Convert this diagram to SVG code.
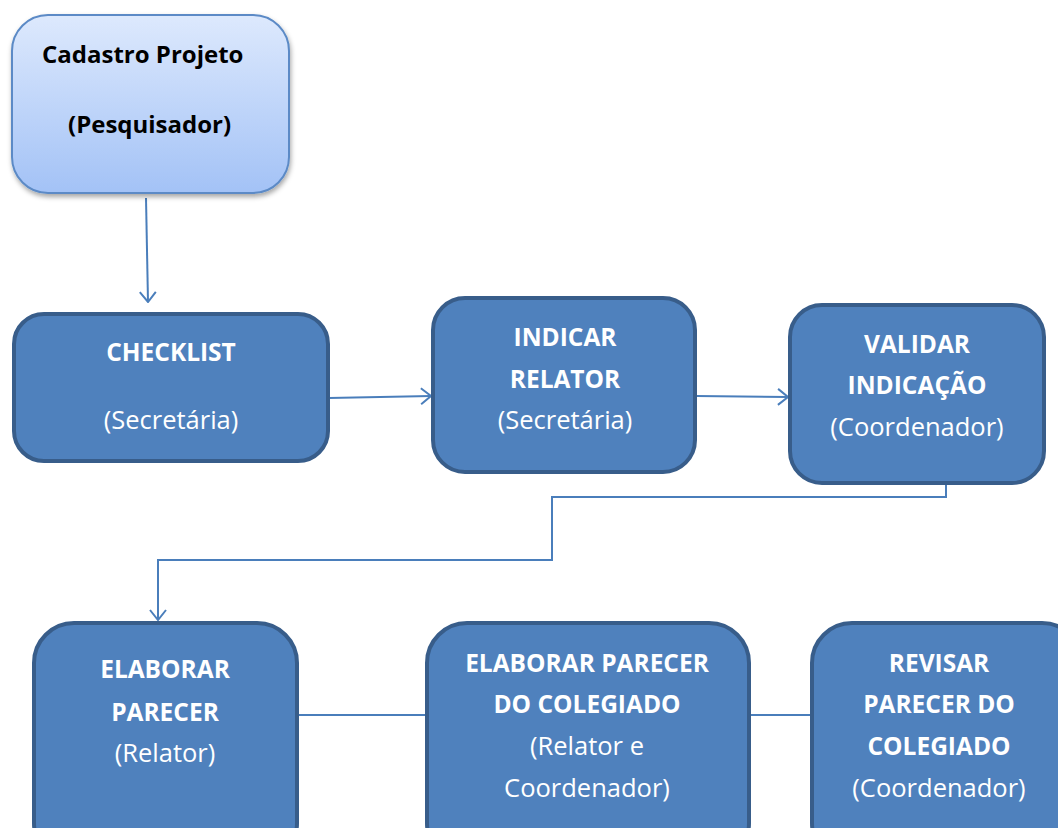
<svg xmlns="http://www.w3.org/2000/svg" width="1058" height="828" viewBox="0 0 1058 828">
<defs>
<linearGradient id="g1" x1="0" y1="0" x2="0" y2="1">
<stop offset="0" stop-color="#dde9fd"/>
<stop offset="1" stop-color="#a3c2f6"/>
</linearGradient>
<filter id="sh" x="-10%" y="-10%" width="120%" height="125%">
<feDropShadow dx="1" dy="3" stdDeviation="2.5" flood-color="#000" flood-opacity="0.35"/>
</filter>
<marker id="ah" viewBox="0 0 12 18" refX="11" refY="9" markerWidth="12" markerHeight="18" markerUnits="userSpaceOnUse" orient="auto">
<path d="M1,1 L11,9 L1,17" fill="none" stroke="#4a7ebb" stroke-width="2"/>
</marker>
<style>
.box{fill:#4f81bd;stroke:#385d8a;stroke-width:4}
.b{font-family:"Open Sans","Liberation Sans",sans-serif;font-weight:bold;font-size:24.5px;fill:#fff;text-anchor:middle}
.r{font-family:"Open Sans","Liberation Sans",sans-serif;font-size:25.5px;fill:#fff;text-anchor:middle}
.t{font-family:"Open Sans","Liberation Sans",sans-serif;font-weight:bold;font-size:24px;fill:#000}
.c{fill:none;stroke:#4a7ebb;stroke-width:2}
</style>
</defs>
<rect width="1058" height="828" fill="#fff"/>
<g id="connectors">
<path class="c" d="M146,198 L148,302" marker-end="url(#ah)"/>
<path class="c" d="M329,398 L431,396" marker-end="url(#ah)"/>
<path class="c" d="M696,396 L788,397" marker-end="url(#ah)"/>
<path class="c" d="M946,484 L946,497 L552,497 L552,560 L158,560 L158,620" marker-end="url(#ah)"/>
<path class="c" d="M277,715 L426,715"/>
<path class="c" d="M750,715 L811,715"/>
</g>
<g id="cadastro">
<rect x="12" y="15" width="277" height="178" rx="36" fill="url(#g1)" stroke="#5b8ac6" stroke-width="2" filter="url(#sh)"/>
<text class="t" x="42" y="63">Cadastro Projeto</text>
<text class="t" x="68" y="133">(Pesquisador)</text>
</g>
<g id="checklist">
<rect class="box" x="14" y="314" width="314" height="147" rx="30"/>
<text class="b" x="171" y="361">CHECKLIST</text>
<text class="r" x="171" y="429">(Secretária)</text>
</g>
<g id="indicar">
<rect class="box" x="433" y="298" width="262" height="174" rx="32"/>
<text class="b" x="565" y="346">INDICAR</text>
<text class="b" x="565" y="388">RELATOR</text>
<text class="r" x="565" y="429">(Secretária)</text>
</g>
<g id="validar">
<rect class="box" x="790" y="305" width="254" height="178" rx="32"/>
<text class="b" x="917" y="353">VALIDAR</text>
<text class="b" x="917" y="394">INDICAÇÃO</text>
<text class="r" x="917" y="436">(Coordenador)</text>
</g>
<g id="elaborar">
<rect class="box" x="34" y="623" width="263" height="240" rx="40"/>
<text class="b" x="165" y="678">ELABORAR</text>
<text class="b" x="165" y="721">PARECER</text>
<text class="r" x="165" y="762">(Relator)</text>
</g>
<g id="elaborar-colegiado">
<rect class="box" x="427" y="623" width="322" height="240" rx="40"/>
<text class="b" x="587" y="672">ELABORAR PARECER</text>
<text class="b" x="587" y="713">DO COLEGIADO</text>
<text class="r" x="587" y="755">(Relator e</text>
<text class="r" x="587" y="797">Coordenador)</text>
</g>
<g id="revisar">
<rect class="box" x="812" y="623" width="270" height="240" rx="40"/>
<text class="b" x="939" y="672">REVISAR</text>
<text class="b" x="939" y="713">PARECER DO</text>
<text class="b" x="939" y="755">COLEGIADO</text>
<text class="r" x="939" y="797">(Coordenador)</text>
</g>
</svg>
